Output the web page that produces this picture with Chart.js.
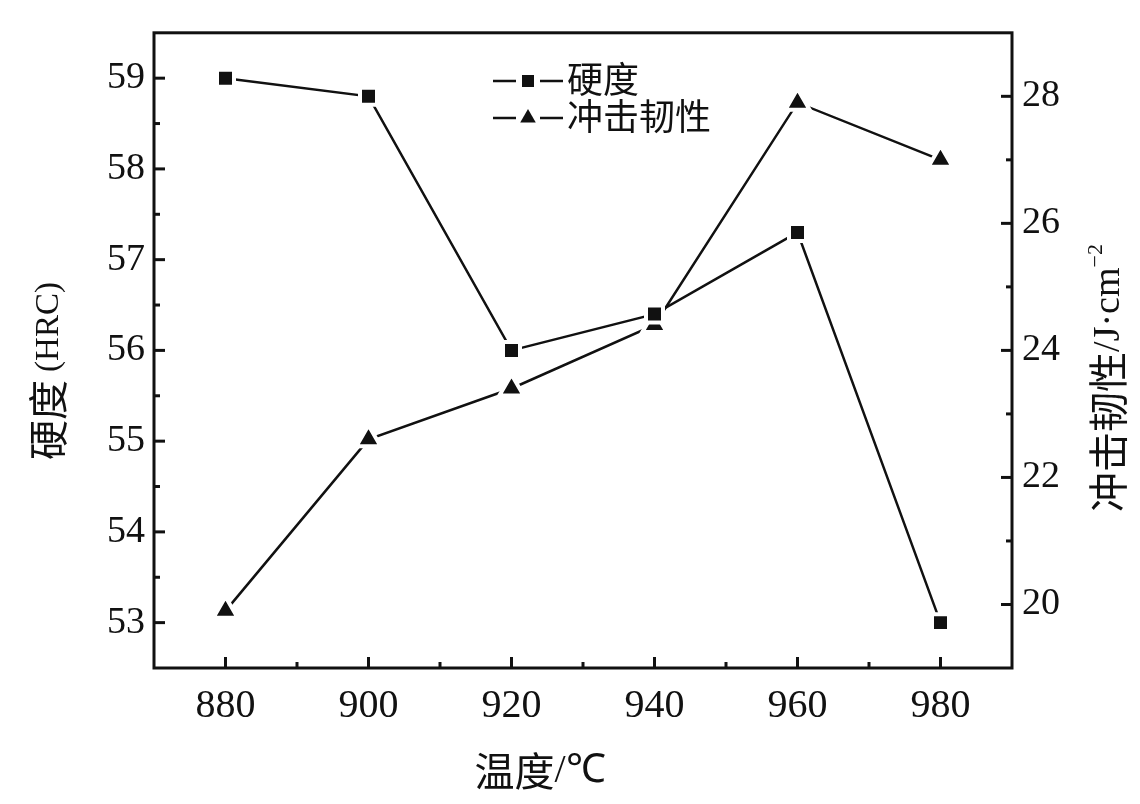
<!DOCTYPE html>
<html>
<head>
<meta charset="utf-8">
<script src="https://cdn.jsdelivr.net/npm/chart.js@4.4.0/dist/chart.umd.min.js"></script>
<style>
  html, body { margin: 0; padding: 0; background: #fff; }
  #wrap { width: 1140px; height: 804px; }
</style>
</head>
<body>
<div id="wrap"><canvas id="chart" width="1140" height="804"></canvas></div>
<script>
// data
const temperatures = [880, 900, 920, 940, 960, 980];
const hardness = [59.0, 58.8, 56.0, 56.4, 57.3, 53.0];
const toughness = [19.9, 22.6, 23.4, 24.4, 27.9, 27.0];

const tempTicks = [880, 900, 920, 940, 960, 980];
const hardnessTicks = [53, 54, 55, 56, 57, 58, 59];
const toughnessTicks = [20, 22, 24, 26, 28];

const SERIF = '"Liberation Serif", "Times New Roman", serif';
const CJK = '"Noto Sans CJK SC", "Noto Sans", sans-serif';
const INK = '#111';

function points(ys) {
    return temperatures.map((t, i) => ({ x: t, y: ys[i] }));
}

// draws a row of text pieces with different fonts, centred on (cx, cy)
function drawRuns(ctx, runs, cx, cy, rotation) {
    ctx.save();
    ctx.translate(cx, cy);
    ctx.rotate(rotation);
    ctx.fillStyle = INK;
    ctx.textBaseline = 'middle';
    ctx.textAlign = 'left';
    let total = 0;
    runs.forEach(r => { ctx.font = r.font; r.w = ctx.measureText(r.text).width; total += r.w + (r.gap || 0); });
    let x = -total / 2;
    runs.forEach(r => {
        ctx.font = r.font;
        x += r.gap || 0;
        ctx.fillText(r.text, x, r.dy || 0);
        x += r.w;
    });
    ctx.restore();
}

const decorations = {
    id: 'decorations',
    beforeDatasetsDraw(chart) {
        const { ctx, chartArea: a, scales } = chart;
        ctx.save();
        ctx.strokeStyle = INK;
        ctx.lineWidth = 3;
        ctx.lineCap = 'butt';
        ctx.strokeRect(a.left, a.top, a.right - a.left, a.bottom - a.top);

        // inward ticks, long for labelled values
        const inward = (scale, majors, draw) => {
            scale.ticks.forEach(t => {
                if (t.value <= scale.min || t.value >= scale.max) return;
                const p = scale.getPixelForValue(t.value);
                const len = majors.includes(t.value) ? 11 : 6;
                ctx.beginPath();
                draw(p, len);
                ctx.stroke();
            });
        };
        inward(scales.y, hardnessTicks, (p, l) => { ctx.moveTo(a.left, p); ctx.lineTo(a.left + l, p); });
        inward(scales.y1, toughnessTicks, (p, l) => { ctx.moveTo(a.right, p); ctx.lineTo(a.right - l, p); });
        inward(scales.x, tempTicks, (p, l) => { ctx.moveTo(p, a.bottom); ctx.lineTo(p, a.bottom - l); });
        ctx.restore();

        // axis titles
        drawRuns(ctx, [
            { text: '温度', font: '40px ' + CJK },
            { text: '/℃', font: '40px ' + SERIF }
        ], 540, 771, 0);
        drawRuns(ctx, [
            { text: '硬度', font: '40px ' + CJK },
            { text: '(HRC)', font: '33px ' + SERIF, gap: 8, dy: 1 }
        ], 48, 371, -Math.PI / 2);
        drawRuns(ctx, [
            { text: '冲击韧性', font: '40px ' + CJK },
            { text: '/J·cm', font: '38px ' + SERIF, dy: 1 },
            { text: '−2', font: '22px ' + SERIF, dy: -12 }
        ], 1108, 378, -Math.PI / 2);
    },
    afterDatasetsDraw(chart) {
        const { ctx } = chart;
        const rows = [{ ds: chart.data.datasets[0], y: 81 }, { ds: chart.data.datasets[1], y: 118 }];
        rows.forEach(r => {
            ctx.save();
            ctx.strokeStyle = INK;
            ctx.lineWidth = 2.5;
            ctx.beginPath();
            ctx.moveTo(493, r.y); ctx.lineTo(516, r.y);
            ctx.moveTo(540, r.y); ctx.lineTo(563, r.y);
            ctx.stroke();
            ctx.fillStyle = INK;
            ctx.strokeStyle = INK;
            Chart.helpers.drawPoint(ctx, {
                pointStyle: r.ds.pointStyle,
                radius: r.ds.pointStyle === 'triangle' ? 9 : 8.5,
                rotation: 0,
                borderWidth: 0
            }, 528, r.y);
            ctx.fillStyle = INK;
            ctx.font = '36px ' + CJK;
            ctx.textBaseline = 'middle';
            ctx.textAlign = 'left';
            ctx.fillText(r.ds.label, 567, r.y - 2);
            ctx.restore();
        });
    }
};

new Chart(document.getElementById('chart'), {
    type: 'line',
    data: {
        datasets: [
            {
                label: '硬度',
                data: points(hardness),
                yAxisID: 'y',
                borderColor: INK,
                borderWidth: 2.5,
                pointStyle: 'rect',
                pointRadius: 12,
                pointBackgroundColor: INK,
                pointBorderColor: '#fff',
                pointBorderWidth: 4,
                tension: 0
            },
            {
                label: '冲击韧性',
                data: points(toughness),
                yAxisID: 'y1',
                borderColor: INK,
                borderWidth: 2.5,
                pointStyle: 'triangle',
                pointRadius: 14,
                pointBackgroundColor: INK,
                pointBorderColor: '#fff',
                pointBorderWidth: 4,
                tension: 0
            }
        ]
    },
    options: {
        responsive: false,
        animation: false,
        devicePixelRatio: 1,
        layout: { padding: { top: 30, left: 0, right: 0, bottom: 0 } },
        plugins: { legend: { display: false }, tooltip: { enabled: false } },
        scales: {
            x: {
                type: 'linear',
                min: 870,
                max: 990,
                grid: { display: false, drawTicks: false },
                border: { display: false },
                ticks: {
                    stepSize: 10,
                    autoSkip: false,
                    maxRotation: 0,
                    minRotation: 0,
                    padding: 14,
                    color: INK,
                    font: { family: SERIF, size: 40 },
                    callback: v => tempTicks.includes(v) ? String(v) : ''
                },
                afterFit: s => { s.height = 136; }
            },
            y: {
                position: 'left',
                min: 52.5,
                max: 59.5,
                grid: { display: false, drawTicks: false },
                border: { display: false },
                ticks: {
                    stepSize: 0.5,
                    autoSkip: false,
                    padding: 9,
                    color: INK,
                    font: { family: SERIF, size: 38 },
                    callback: v => hardnessTicks.includes(v) ? String(v) : ''
                },
                afterFit: s => { s.width = 154; }
            },
            y1: {
                position: 'right',
                min: 19,
                max: 29,
                grid: { display: false, drawTicks: false },
                border: { display: false },
                ticks: {
                    stepSize: 1,
                    autoSkip: false,
                    padding: 10,
                    color: INK,
                    font: { family: SERIF, size: 38 },
                    callback: v => toughnessTicks.includes(v) ? String(v) : ''
                },
                afterFit: s => { s.width = 128; }
            }
        }
    },
    plugins: [decorations]
});
</script>
</body>
</html>
